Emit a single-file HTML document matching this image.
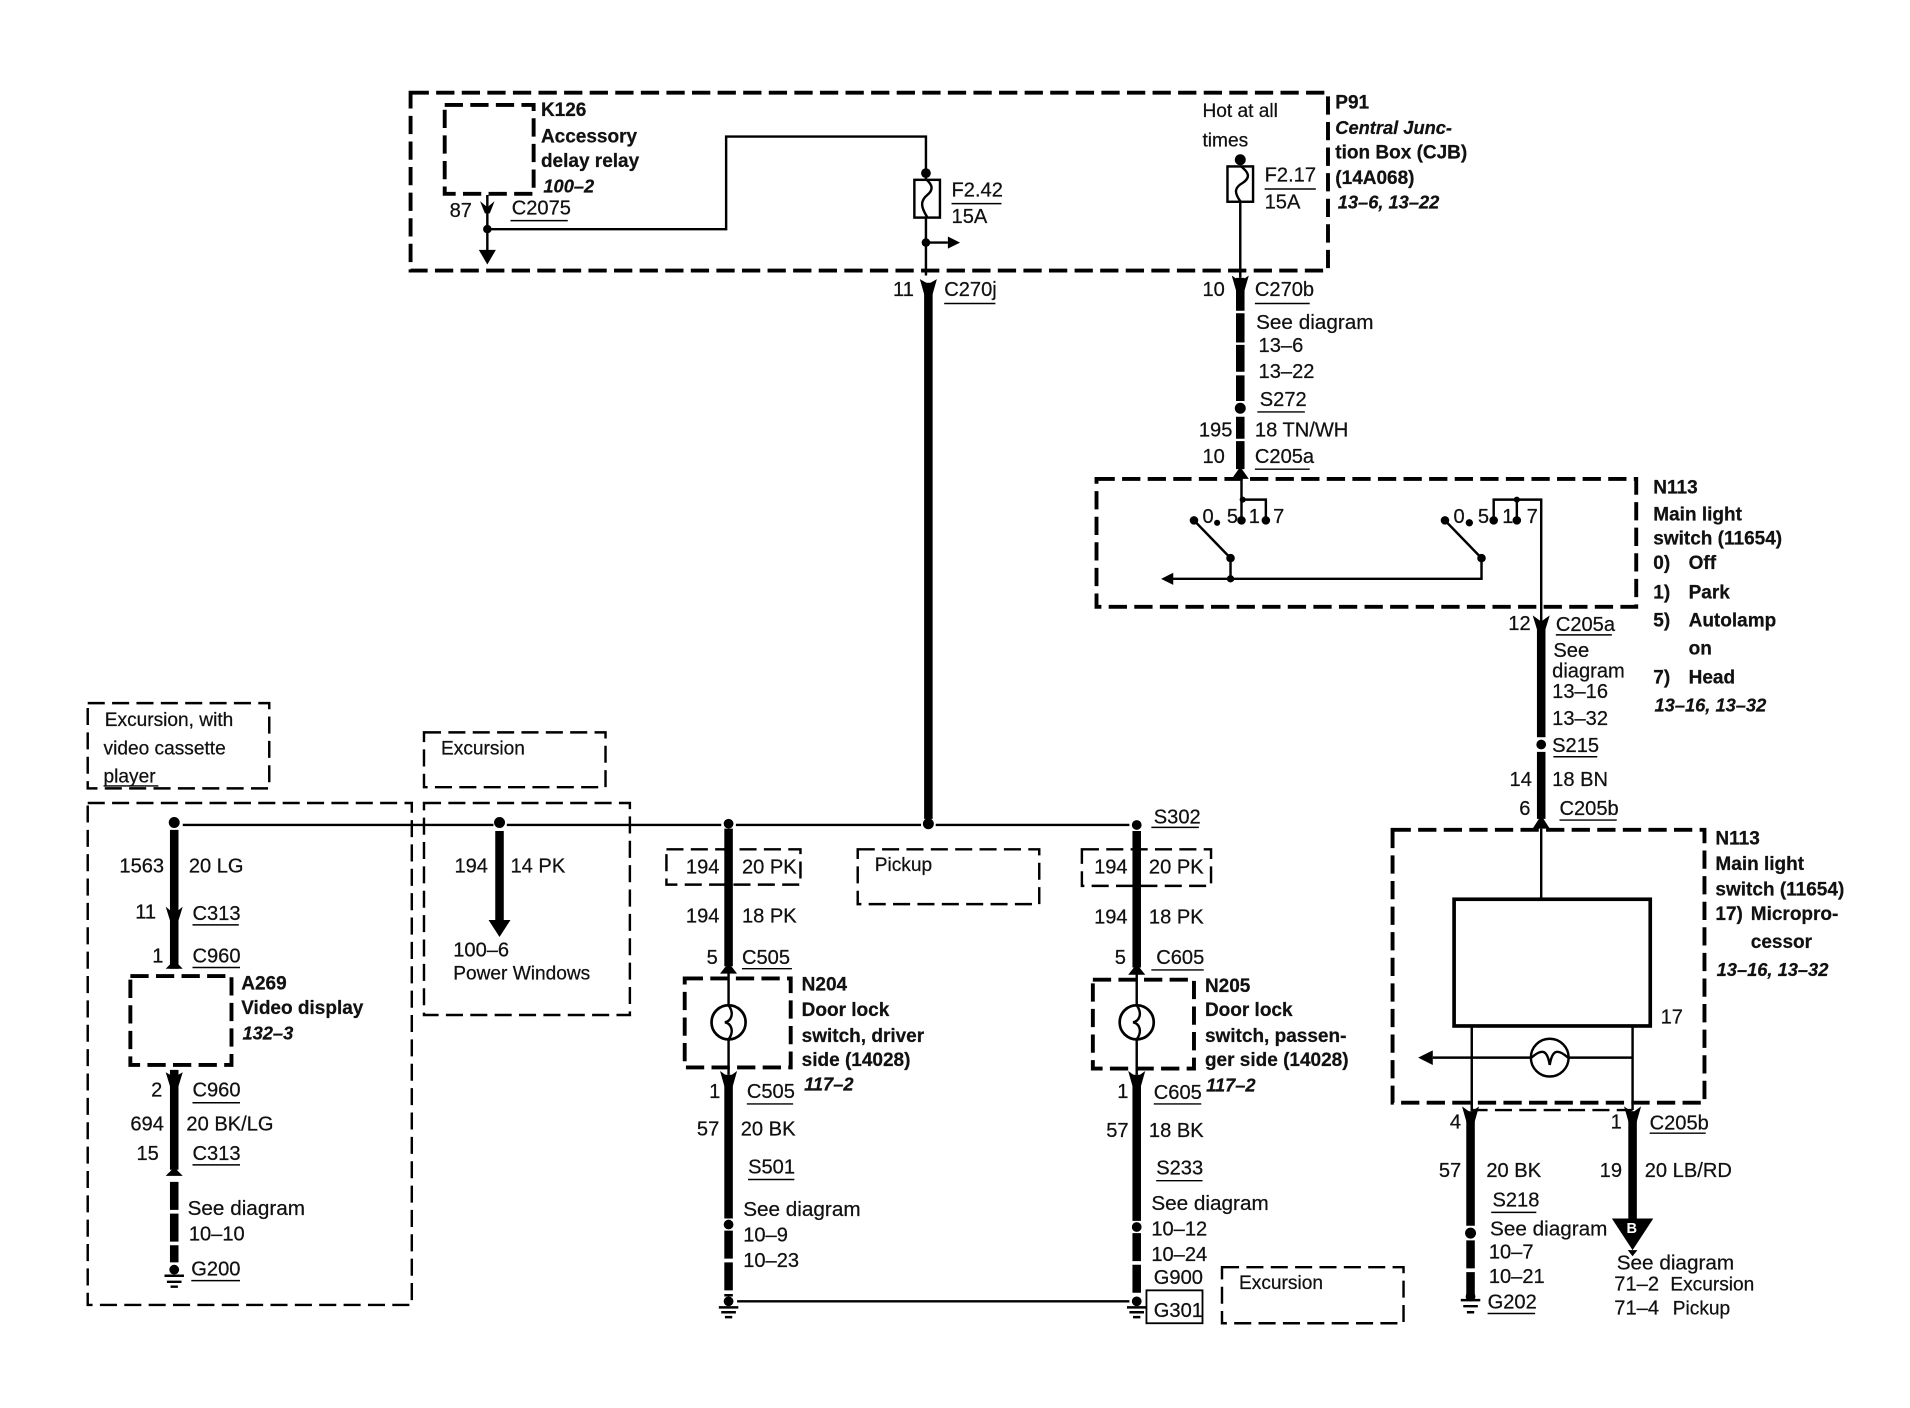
<!DOCTYPE html>
<html><head><meta charset="utf-8"><title>Wiring diagram</title>
<style>
html,body{margin:0;padding:0;background:#fff}
svg{display:block}
text{font-family:"Liberation Sans",sans-serif;fill:#111;stroke:#111;stroke-width:.2;font-size:16.5px}
.b{font-weight:bold;font-size:15.6px}
.i{font-weight:bold;font-style:italic;font-size:15px}
.s{font-size:15.7px}
.g{font-size:17px}
.d{fill:none;stroke:#000;stroke-width:3.2;stroke-dasharray:15 6}
.e{fill:none;stroke:#000;stroke-width:2;stroke-dasharray:14 6}
.w{fill:none;stroke:#000;stroke-width:2}
.k{fill:none;stroke:#000;stroke-width:7}
.kd{fill:none;stroke:#000;stroke-width:7;stroke-dasharray:23 3}
.u{fill:none;stroke:#000;stroke-width:1.2}
</style></head><body>
<svg width="1910" height="1408" viewBox="0 0 1563 1152" xmlns="http://www.w3.org/2000/svg">
<g transform="matrix(0.997 0 0 0.997 0 0)">
<!-- boxes -->
<rect class="d" x="337" y="76" width="753" height="146"/>
<rect class="d" x="365" y="86" width="73" height="73"/>
<rect class="d" x="900" y="393" width="443" height="105"/>
<rect class="d" x="1143" y="681" width="256" height="224"/>
<rect class="d" x="107" y="801" width="83" height="73"/>
<rect class="d" x="562" y="803" width="87" height="73"/>
<rect class="d" x="897" y="804" width="83" height="73"/>
<rect class="e" x="72" y="577" width="149" height="70"/>
<rect class="e" x="348" y="601" width="149" height="45"/>
<rect class="e" x="72" y="659" width="266" height="412"/>
<rect class="e" x="348" y="659" width="169" height="174"/>
<rect class="e" x="547" y="697" width="110" height="29"/>
<rect class="e" x="704" y="697" width="149" height="45"/>
<rect class="e" x="888" y="697" width="106" height="30"/>
<rect class="e" x="1003" y="1040" width="149" height="46"/>
<path class="e" d="M1207 911H1340"/>
<!-- top left wiring -->
<path class="w" d="M400 160V210M400 188H596V112H760V147M760 178V226"/>
<circle cx="400" cy="188" r="3.5"/>
<path d="M393 205H407L400 217ZM394 165L400 170L406 165L402 175H398Z"/>
<circle cx="760" cy="142" r="4"/>
<rect x="750.500" y="147.500" width="21" height="31" fill="#fff" stroke="#000" stroke-width="2"/>
<path class="w" d="M760 147C766 152 766 156 761 160C755 165 756 170 761 178"/>
<circle cx="760" cy="199" r="3.500"/>
<path class="w" d="M760 199H778"/><path d="M778 194L788 199L778 204Z"/>
<path class="k" d="M762 232V672"/>
<path d="M755 229L762 233L769 229L765 243H759Z"/>
<!-- top right wiring -->
<circle cx="1018" cy="131" r="4.500"/>
<rect x="1007.500" y="136.500" width="21" height="29" fill="#fff" stroke="#000" stroke-width="2"/>
<path class="w" d="M1018 136C1026 142 1026 146 1020 150C1013 154 1013 158 1018 165V228"/>
<path class="k" d="M1018 228V255M1018 257V281M1018 283V305M1018 308V329M1018 342V360M1018 362V385"/>
<path d="M1011 226L1018 231L1025 226L1021 240H1015Z"/>
<circle cx="1018" cy="335" r="4.500"/>
<path d="M1011 393L1018 383L1025 393Z"/>
<!-- main light switch -->
<path class="w" d="M1019 393V427M1019 410H1039V427M1226 427V410H1265V510M1245 408V427"/>
<circle cx="1019" cy="427" r="3.500"/><circle cx="1039" cy="427" r="3.500"/><circle cx="980" cy="427" r="3.500"/><circle cx="999" cy="429" r="2.500"/><circle cx="1020" cy="410" r="2.500"/>
<circle cx="1186" cy="427" r="3.500"/><circle cx="1206" cy="429" r="3"/><circle cx="1226" cy="427" r="3.500"/><circle cx="1245" cy="427" r="3.500"/><circle cx="1245" cy="410" r="2.500"/>
<path class="w" d="M980 427L1010 458V475M1186 427L1216 458V475H962"/>
<path d="M953 475L963 470V480Z"/>
<circle cx="1010" cy="458" r="3.500"/><circle cx="1010" cy="475" r="3"/><circle cx="1216" cy="458" r="3.500"/>
<path class="k" d="M1265 512V605M1265 617V672"/>
<path d="M1258 505L1265 510L1272 505L1268 518H1262Z"/>
<circle cx="1265" cy="611" r="4"/>
<path d="M1258 680L1265 669L1272 680Z"/>
<path class="w" d="M1265 680V738"/>
<!-- N113 lower -->
<rect x="1193.500" y="738" width="161" height="104" fill="none" stroke="#000" stroke-width="3"/>
<path class="w" d="M1208 842V911M1340 842V911M1176 868H1340"/>
<path d="M1164 868L1176 862V874Z"/>
<circle cx="1272" cy="868" r="15.500" fill="#fff" stroke="#000" stroke-width="2"/>
<path class="w" d="M1257 868C1266 860 1270 862 1272 874C1274 862 1278 860 1287 868"/>
<path class="k" d="M1207 912V1006M1340 912V1005"/>
<path class="kd" d="M1207 1018V1063"/>
<path d="M1200 908L1207 913L1214 908L1210 922H1204ZM1333 908L1340 913L1347 908L1343 922H1337Z"/>
<circle cx="1207" cy="1012" r="4.500"/>
<path d="M1323 1000H1357L1340 1026Z"/>
<path d="M1336 1026H1344L1340 1031Z"/>
<text x="1335" y="1012" style="fill:#fff;stroke:none;font-size:12px;font-weight:bold">B</text>
<path class="w" d="M1199 1067H1215M1201 1072H1213M1204 1077H1210"/><circle cx="1207" cy="1064" r="4"/>
<!-- bus -->
<path class="w" d="M150 677H405M416 677H592M604 677H756M768 677H927"/>
<circle cx="143" cy="675" r="4.500"/><circle cx="410" cy="675" r="4.500"/><circle cx="598" cy="676" r="4"/><circle cx="762" cy="676" r="4.500"/><circle cx="933" cy="677" r="4"/>
<!-- A269 column -->
<path class="k" d="M143 681V795M143 878V960"/>
<path class="kd" d="M143 970V1036"/>
<path d="M136 744L143 750L150 744L146 757H140ZM136 795L143 788L150 795ZM136 880L143 884L150 880L146 893H140ZM136 965L143 958L150 965Z"/>
<path class="w" d="M135 1047H151M137 1052H149M140 1056H146"/><circle cx="143" cy="1042" r="4"/>
<path class="k" d="M410 682V756"/><path d="M401 755H419L410 769Z"/>
<!-- door lock columns -->
<path class="k" d="M598 680V793M598 882V1000"/>
<path class="kd" d="M598 1010V1064"/>
<path class="w" d="M598 795V882"/>
<path d="M591 799L598 790L605 799ZM591 879L598 884L605 879L601 893H595Z"/>
<circle cx="598" cy="1005" r="4"/>
<circle cx="598" cy="839" r="14" fill="#fff" stroke="#000" stroke-width="2.200"/>
<path class="w" d="M598 825C603 832 600 838 595 839C600 840 603 846 598 853"/>
<path class="k" d="M933 682V794M933 882V1002"/>
<path class="kd" d="M933 1012V1064"/>
<path class="w" d="M933 795V882"/>
<path d="M926 800L933 791L940 800ZM926 879L933 884L940 879L936 893H930Z"/>
<circle cx="933" cy="1007" r="4"/>
<circle cx="933" cy="839" r="14" fill="#fff" stroke="#000" stroke-width="2.200"/>
<path class="w" d="M933 825C938 832 935 838 930 839C935 840 938 846 933 853"/>
<path class="w" d="M605 1068H927"/>
<circle cx="598" cy="1068" r="4"/><circle cx="933" cy="1068" r="4"/>
<path class="w" d="M590 1073H606M592 1077H604M595 1081H601M925 1073H941M927 1077H939M930 1081H936"/>
<rect x="941" y="1059" width="46" height="27" fill="#fff" stroke="#000" stroke-width="1.500"/>
<!-- underlines -->
<path class="u" d="M419 181H466M781 167H822M1038 155H1080M775 249H817M1030 249H1075M1032 338H1071M1030 385H1075M1277 521H1323M1275 621H1311M1280 673H1327M945 679H984M158 759H196M158 794H197M158 905H197M158 956H197M157 1051H197M609 795H650M945 796H988M613 906H651M947 906H986M614 968H652M949 969H987M1354 930H1400M1224 995H1261M1221 1078H1260M85 645H130"/>
<!-- labels -->
<text class="b" x="444" y="95">K126</text>
<text class="b" x="444" y="117">Accessory</text>
<text class="b" x="444" y="137">delay relay</text>
<text class="i" x="446" y="158">100–2</text>
<text x="369" y="178">87</text>
<text x="420" y="176">C2075</text>
<text x="781" y="161">F2.42</text>
<text x="781" y="183">15A</text>
<text x="733" y="243">11</text>
<text x="775" y="243">C270j</text>
<text class="s" x="987" y="96">Hot at all</text>
<text class="s" x="987" y="120">times</text>
<text x="1038" y="149">F2.17</text>
<text x="1038" y="171">15A</text>
<text class="b" x="1096" y="89">P91</text>
<text class="i" x="1096" y="110">Central Junc-</text>
<text class="b" x="1096" y="130">tion Box (CJB)</text>
<text class="b" x="1096" y="151">(14A068)</text>
<text class="i" x="1098" y="171">13–6, 13–22</text>
<text x="987" y="243">10</text>
<text x="1030" y="243">C270b</text>
<text class="g" x="1031" y="270">See diagram</text>
<text x="1033" y="289">13–6</text>
<text x="1033" y="310">13–22</text>
<text x="1034" y="333">S272</text>
<text x="984" y="358">195</text>
<text x="1030" y="358">18 TN/WH</text>
<text x="987" y="380">10</text>
<text x="1030" y="380">C205a</text>
<text x="987" y="429">0</text><text x="1007" y="429">5</text><text x="1025" y="429">1</text><text x="1045" y="429">7</text>
<text x="1193" y="429">0</text><text x="1213" y="429">5</text><text x="1233" y="429">1</text><text x="1253" y="429">7</text>
<text class="b" x="1357" y="405">N113</text>
<text class="b" x="1357" y="427">Main light</text>
<text class="b" x="1357" y="447">switch (11654)</text>
<text class="b" x="1357" y="467">0)</text><text class="b" x="1386" y="467">Off</text>
<text class="b" x="1357" y="491">1)</text><text class="b" x="1386" y="491">Park</text>
<text class="b" x="1357" y="514">5)</text><text class="b" x="1386" y="514">Autolamp</text>
<text class="b" x="1386" y="537">on</text>
<text class="b" x="1357" y="561">7)</text><text class="b" x="1386" y="561">Head</text>
<text class="i" x="1358" y="584">13–16, 13–32</text>
<text x="1238" y="517">12</text>
<text x="1277" y="518">C205a</text>
<text x="1275" y="539">See</text>
<text x="1274" y="556">diagram</text>
<text x="1274" y="573">13–16</text>
<text x="1274" y="595">13–32</text>
<text x="1274" y="617">S215</text>
<text x="1239" y="645">14</text>
<text x="1274" y="645">18 BN</text>
<text x="1247" y="669">6</text>
<text x="1280" y="669">C205b</text>
<text class="b" x="1408" y="693">N113</text>
<text class="b" x="1408" y="714">Main light</text>
<text class="b" x="1408" y="735">switch (11654)</text>
<text class="b" x="1408" y="755">17)</text><text class="b" x="1437" y="755">Micropro-</text>
<text class="b" x="1437" y="778">cessor</text>
<text class="i" x="1409" y="801">13–16, 13–32</text>
<text x="1363" y="840">17</text>
<text x="1190" y="926">4</text>
<text x="1322" y="926">1</text>
<text x="1354" y="927">C205b</text>
<text x="1181" y="966">57</text>
<text x="1220" y="966">20 BK</text>
<text x="1313" y="966">19</text>
<text x="1350" y="966">20 LB/RD</text>
<text x="1225" y="990">S218</text>
<text class="g" x="1223" y="1014">See diagram</text>
<text x="1222" y="1033">10–7</text>
<text x="1222" y="1053">10–21</text>
<text x="1221" y="1074">G202</text>
<text class="g" x="1327" y="1042">See diagram</text>
<text x="1325" y="1059">71–2</text><text class="s" x="1371" y="1059">Excursion</text>
<text x="1325" y="1079">71–4</text><text class="s" x="1373" y="1079">Pickup</text>
<text class="s" x="86" y="596">Excursion, with</text>
<text class="s" x="85" y="619">video cassette</text>
<text class="s" x="85" y="642">player</text>
<text class="s" x="362" y="619">Excursion</text>
<text x="98" y="716">1563</text>
<text x="155" y="716">20 LG</text>
<text x="111" y="754">11</text>
<text x="158" y="755">C313</text>
<text x="125" y="790">1</text>
<text x="158" y="790">C960</text>
<text class="b" x="198" y="812">A269</text>
<text class="b" x="198" y="832">Video display</text>
<text class="i" x="199" y="853">132–3</text>
<text x="124" y="900">2</text>
<text x="158" y="900">C960</text>
<text x="107" y="928">694</text>
<text x="153" y="928">20 BK/LG</text>
<text x="112" y="952">15</text>
<text x="158" y="952">C313</text>
<text class="g" x="154" y="997">See diagram</text>
<text x="155" y="1018">10–10</text>
<text x="157" y="1047">G200</text>
<text x="373" y="716">194</text>
<text x="419" y="716">14 PK</text>
<text x="372" y="785">100–6</text>
<text class="s" x="372" y="804">Power Windows</text>
<text x="563" y="717">194</text>
<text x="609" y="717">20 PK</text>
<text x="563" y="757">194</text>
<text x="609" y="757">18 PK</text>
<text x="580" y="791">5</text>
<text x="609" y="791">C505</text>
<text class="b" x="658" y="813">N204</text>
<text class="b" x="658" y="834">Door lock</text>
<text class="b" x="658" y="855">switch, driver</text>
<text class="b" x="658" y="875">side (14028)</text>
<text class="i" x="660" y="895">117–2</text>
<text x="582" y="901">1</text>
<text x="613" y="901">C505</text>
<text x="572" y="932">57</text>
<text x="608" y="932">20 BK</text>
<text x="614" y="963">S501</text>
<text class="g" x="610" y="998">See diagram</text>
<text x="610" y="1019">10–9</text>
<text x="610" y="1040">10–23</text>
<text class="s" x="718" y="715">Pickup</text>
<text x="947" y="676">S302</text>
<text x="898" y="717">194</text>
<text x="943" y="717">20 PK</text>
<text x="898" y="758">194</text>
<text x="943" y="758">18 PK</text>
<text x="915" y="791">5</text>
<text x="949" y="791">C605</text>
<text class="b" x="989" y="814">N205</text>
<text class="b" x="989" y="834">Door lock</text>
<text class="b" x="989" y="855">switch, passen-</text>
<text class="b" x="989" y="875">ger side (14028)</text>
<text class="i" x="990" y="896">117–2</text>
<text x="917" y="901">1</text>
<text x="947" y="902">C605</text>
<text x="908" y="933">57</text>
<text x="943" y="933">18 BK</text>
<text x="949" y="964">S233</text>
<text class="g" x="945" y="993">See diagram</text>
<text x="945" y="1014">10–12</text>
<text x="945" y="1035">10–24</text>
<text x="947" y="1054">G900</text>
<text x="947" y="1081">G301</text>
<text class="s" x="1017" y="1058">Excursion</text>
</g>
</svg>
</body></html>
